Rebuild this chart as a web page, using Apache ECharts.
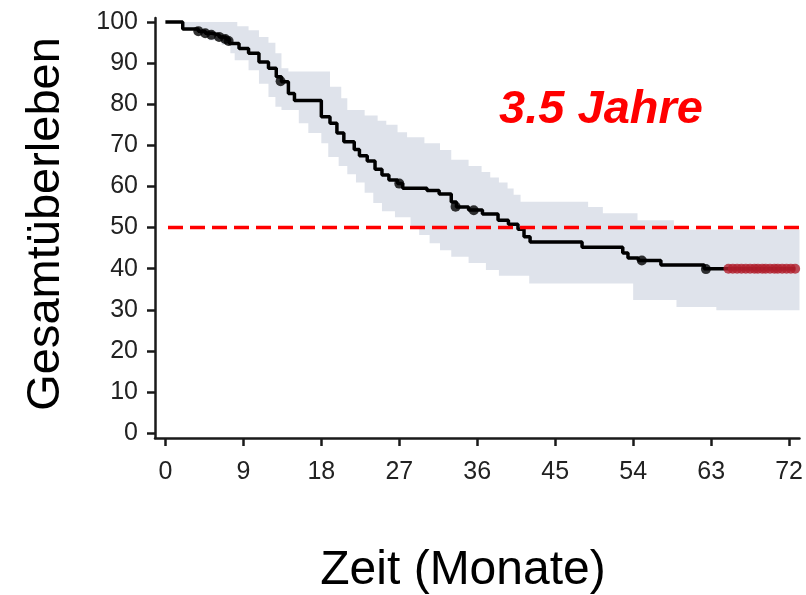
<!DOCTYPE html>
<html>
<head>
<meta charset="utf-8">
<script src="https://cdn.jsdelivr.net/npm/echarts@6/dist/echarts.min.js"></script>
<style>html,body{margin:0;padding:0;background:#fff}#c{width:806px;height:595px}</style>
</head>
<body>
<div id="c"></div>
<script>
// Kaplan-Meier step curve
const months   = [0, 2.0, 3.8, 4.6, 5.4, 6.2, 7.0, 7.4, 8.5, 9.6, 10.8, 11.9, 12.8, 13.4, 14.2, 14.9, 18.0, 19.0, 19.8, 20.6, 21.8, 22.4, 23.3, 24.2, 25.0, 25.8, 26.8, 27.4, 30.2, 31.6, 33.0, 33.6, 35.0, 36.6, 38.4, 39.6, 40.7, 41.4, 42.1, 48.1, 52.8, 53.4, 54.6, 57.2, 62.2, 72.7];
const survival = [100, 98.3, 97.8, 97.3, 96.9, 96.4, 95.9, 94.8, 93.6, 92.4, 90.3, 88.8, 86.7, 85.5, 82.6, 80.9, 77.0, 75.4, 73.0, 70.9, 69.0, 67.5, 66.2, 64.2, 62.8, 61.6, 60.7, 59.6, 59.0, 58.2, 56.2, 55.0, 54.3, 53.3, 51.8, 50.8, 49.6, 47.8, 46.5, 45.2, 43.8, 42.6, 42.0, 40.9, 40.0, 40.0];
// Confidence band (step functions)
const upperT = [0, 8.3, 9.6, 10.8, 11.9, 12.7, 13.4, 14.2, 19.0, 20.3, 21.0, 23.0, 24.5, 25.5, 26.8, 27.9, 29.9, 31.7, 33.0, 35.0, 36.5, 37.5, 38.5, 39.5, 40.2, 41.0, 48.8, 50.5, 54.5, 58.7, 73.2];
const upperV = [100, 99, 98, 96.4, 95, 92.4, 88.8, 88, 84.3, 81.5, 78.6, 77.3, 76, 75, 73.2, 72, 70.5, 68.9, 66.5, 65, 63.5, 62.2, 61, 59.5, 58, 56.3, 55, 53.5, 51.8, 49.5, 49.5];
const lowerT = [0, 2.0, 4.0, 5.0, 6.5, 7.5, 8.0, 9.6, 10.8, 11.9, 12.7, 13.4, 15.4, 16.5, 18.0, 18.8, 20.0, 21.0, 22.0, 23.0, 24.0, 25.0, 26.5, 28.3, 29.3, 30.5, 31.7, 33.0, 35.0, 37.0, 38.5, 42.0, 54.0, 59.0, 63.6, 73.2];
const lowerV = [100, 98.5, 97, 95.6, 94.5, 92.4, 90.7, 88.3, 85, 81.8, 79.4, 78.6, 75.4, 73, 70.5, 67.2, 65, 63, 61, 58.5, 56, 54, 52.5, 50.2, 48.2, 46.2, 44.5, 42.9, 41.4, 39.7, 38.3, 36.4, 32.4, 30.7, 29.9, 29.9];
// Censored observations
const censorT = [3.8, 4.6, 5.3, 6.2, 6.9, 7.3, 13.3, 27.0, 33.5, 35.6, 55.0, 62.4];
const censorV = [97.8, 97.3, 96.9, 96.4, 95.9, 95.4, 85.6, 60.7, 55.1, 54.2, 42.0, 39.9];
const censorRedT = [65.0, 65.5, 66.0, 66.5, 67.0, 67.5, 68.0, 68.4, 68.9, 69.3, 69.8, 70.3, 70.7, 71.2, 71.7, 72.2, 72.7];
const censorRedV = [40, 40, 40, 40, 40, 40, 40, 40, 40, 40, 40, 40, 40, 40, 40, 40, 40];
// Reference
const medianLevel = 50;
const medianLineStart = 0.3;
const annotation = '3.5 Jahre';
const xTicks = [0, 9, 18, 27, 36, 45, 54, 63, 72];
const yTicks = [0, 10, 20, 30, 40, 50, 60, 70, 80, 90, 100];
const xName = 'Zeit (Monate)';
const yName = 'Gesamtüberleben';

const X_MIN = -1.2, X_MAX = 73.2, Y_MIN = -1.2, Y_MAX = 101;
const FONT = '"Liberation Sans", Arial, Helvetica, sans-serif';

function zip(a, b) { return a.map((v, i) => [v, b[i]]); }
function stepPts(t, v) {
  const pts = [];
  for (let i = 0; i < t.length; i++) {
    if (i > 0) pts.push([t[i], v[i - 1]]);
    pts.push([t[i], v[i]]);
  }
  return pts;
}

const chart = echarts.init(document.getElementById('c'), null, {renderer: 'canvas'});
const option = {
  animation: false,
  backgroundColor: '#ffffff',
  grid: {left: 155, right: 0, top: 18, bottom: 157, containLabel: false},
  xAxis: {
    type: 'value', min: X_MIN, max: X_MAX,
    axisLine: {onZero: false, lineStyle: {color: '#1a1a1a', width: 2.5}},
    axisTick: {show: true, length: 8, lineStyle: {color: '#1a1a1a', width: 2.5}, customValues: xTicks},
    axisLabel: {customValues: xTicks, color: '#222', fontFamily: FONT, fontSize: 25, margin: 22},
    splitLine: {show: false}
  },
  yAxis: {
    type: 'value', min: Y_MIN, max: Y_MAX,
    axisLine: {show: true, onZero: false, lineStyle: {color: '#1a1a1a', width: 2.5}},
    axisTick: {show: true, length: 8, lineStyle: {color: '#1a1a1a', width: 2.5}, customValues: yTicks},
    axisLabel: {customValues: yTicks, color: '#222', fontFamily: FONT, fontSize: 25, margin: 17},
    splitLine: {show: false}
  },
  graphic: [
    {type: 'text', x: 46, y: 224, rotation: Math.PI / 2,
     style: {text: yName, font: '47px ' + FONT, fill: '#000', textAlign: 'center', textVerticalAlign: 'middle'}},
    {type: 'text', x: 463, y: 571,
     style: {text: xName, font: '48px ' + FONT, fill: '#000', textAlign: 'center', textVerticalAlign: 'middle'}},
    {type: 'text', x: 601, y: 110,
     style: {text: annotation, font: 'italic bold 47px ' + FONT, fill: '#ff0000', textAlign: 'center', textVerticalAlign: 'middle'}}
  ],
  series: [
    {
      type: 'custom', name: 'band', silent: true, z: 1,
      data: [[0, 0]],
      renderItem: function (params, api) {
        const up = stepPts(upperT, upperV);
        const lo = stepPts(lowerT, lowerV).reverse();
        const pts = up.concat(lo).map(p => api.coord(p));
        return {type: 'polygon', shape: {points: pts}, style: {fill: '#dfe3eb', stroke: null}};
      }
    },
    {
      type: 'line', name: 'KM', step: 'end', z: 3,
      data: zip(months, survival), showSymbol: false, symbol: 'none',
      lineStyle: {color: '#000', width: 3.5}
    },
    {
      type: 'scatter', name: 'censored', z: 4,
      data: zip(censorT, censorV), symbolSize: 10,
      itemStyle: {color: '#000'}
    },
    {
      type: 'scatter', name: 'censoredRed', z: 4,
      data: zip(censorRedT, censorRedV), symbolSize: 10,
      itemStyle: {color: '#b01e2c'}
    },
    {
      type: 'line', name: 'median', z: 5,
      data: [[medianLineStart, medianLevel], [X_MAX, medianLevel]], showSymbol: false, symbol: 'none',
      lineStyle: {color: '#ff0000', width: 3.5, type: [15, 7]}
    }
  ]
};
chart.setOption(option);
</script>
</body>
</html>
